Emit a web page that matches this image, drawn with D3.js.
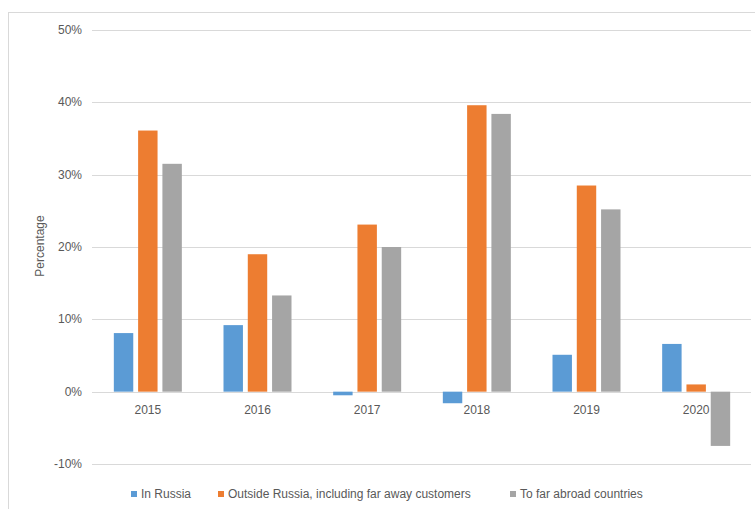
<!DOCTYPE html>
<html>
<head>
<meta charset="utf-8">
<title>Growth by destination</title>
<script src="https://d3js.org/d3.v7.min.js"></script>
<style>
	body { margin: 0; background: white; font-family: "Liberation Sans", Arial, sans-serif; }
	text { fill: #595959; }
</style>
</head>
<body>
<script>
// data
var years = ["2015", "2016", "2017", "2018", "2019", "2020"];
var inRussia = [8.1, 9.2, -0.5, -1.6, 5.1, 6.6];
var outsideRussia = [36.1, 19.0, 23.1, 39.6, 28.5, 1.0];
var farAbroad = [31.5, 13.3, 20.0, 38.4, 25.2, -7.5];
var seriesNames = ["In Russia", "Outside Russia, including far away customers", "To far abroad countries"];
var colors = ["#5B9BD5", "#ED7D31", "#A5A5A5"];
var yTicks = [-10, 0, 10, 20, 30, 40, 50];

var width = 755, height = 509;
// plot area edges (note: "top" is taken by window.top)
var plotLeft = 93, plotRight = 751, plotTop = 30, plotBottom = 464;

var svg = d3.select("body").append("svg")
	.attr("width", width)
	.attr("height", height);

// chart border (right side is cut off in the original)
svg.append("rect")
	.attr("x", 8.5).attr("y", 12.5)
	.attr("width", 760).attr("height", 520)
	.attr("fill", "none")
	.attr("stroke", "#D9D9D9");

var y = d3.scaleLinear().domain([-10, 50]).range([plotBottom, plotTop]);
var x = d3.scaleBand().domain(years).range([plotLeft, plotRight]);
var inner = d3.scaleBand().domain([0, 1, 2]).range([-34, 34]).paddingInner(0.2);

// gridlines
svg.append("g").selectAll("line")
	.data(yTicks)
	.enter().append("line")
	.attr("x1", plotLeft - 1).attr("x2", plotRight)
	.attr("y1", function(d){ return Math.round(y(d)) + 0.5; })
	.attr("y2", function(d){ return Math.round(y(d)) + 0.5; })
	.attr("stroke", "#D9D9D9");

// y tick labels
svg.append("g").selectAll("text")
	.data(yTicks)
	.enter().append("text")
	.attr("x", 82)
	.attr("y", function(d){ return y(d) + 4; })
	.attr("text-anchor", "end")
	.attr("font-size", 12)
	.text(function(d){ return d + "%"; });

// bars
var all = [inRussia, outsideRussia, farAbroad];
all.forEach(function(vals, s) {
	svg.append("g").selectAll("rect")
		.data(vals)
		.enter().append("rect")
		.attr("x", function(d, i){ return x(years[i]) + x.bandwidth() / 2 + inner(s); })
		.attr("width", inner.bandwidth())
		.attr("y", function(d){ return y(Math.max(0, d)); })
		.attr("height", function(d){ return Math.abs(y(d) - y(0)); })
		.attr("fill", colors[s]);
});

// category labels
svg.append("g").selectAll("text")
	.data(years)
	.enter().append("text")
	.attr("x", function(d){ return x(d) + x.bandwidth() / 2; })
	.attr("y", 414)
	.attr("text-anchor", "middle")
	.attr("font-size", 12)
	.text(function(d){ return d; });

// axis title
svg.append("text")
	.attr("transform", "translate(44,246) rotate(-90)")
	.attr("text-anchor", "middle")
	.attr("font-size", 12)
	.text("Percentage");

// legend
var legendX = [131, 218, 510];
var lg = svg.append("g").selectAll("g")
	.data(seriesNames)
	.enter().append("g")
	.attr("transform", function(d, i){ return "translate(" + legendX[i] + ",494)"; });
lg.append("rect")
	.attr("x", 0).attr("y", -3)
	.attr("width", 6).attr("height", 6)
	.attr("fill", function(d, i){ return colors[i]; });
lg.append("text")
	.attr("x", 10).attr("y", 4)
	.attr("font-size", 12)
	.text(function(d){ return d; });
</script>
</body>
</html>
